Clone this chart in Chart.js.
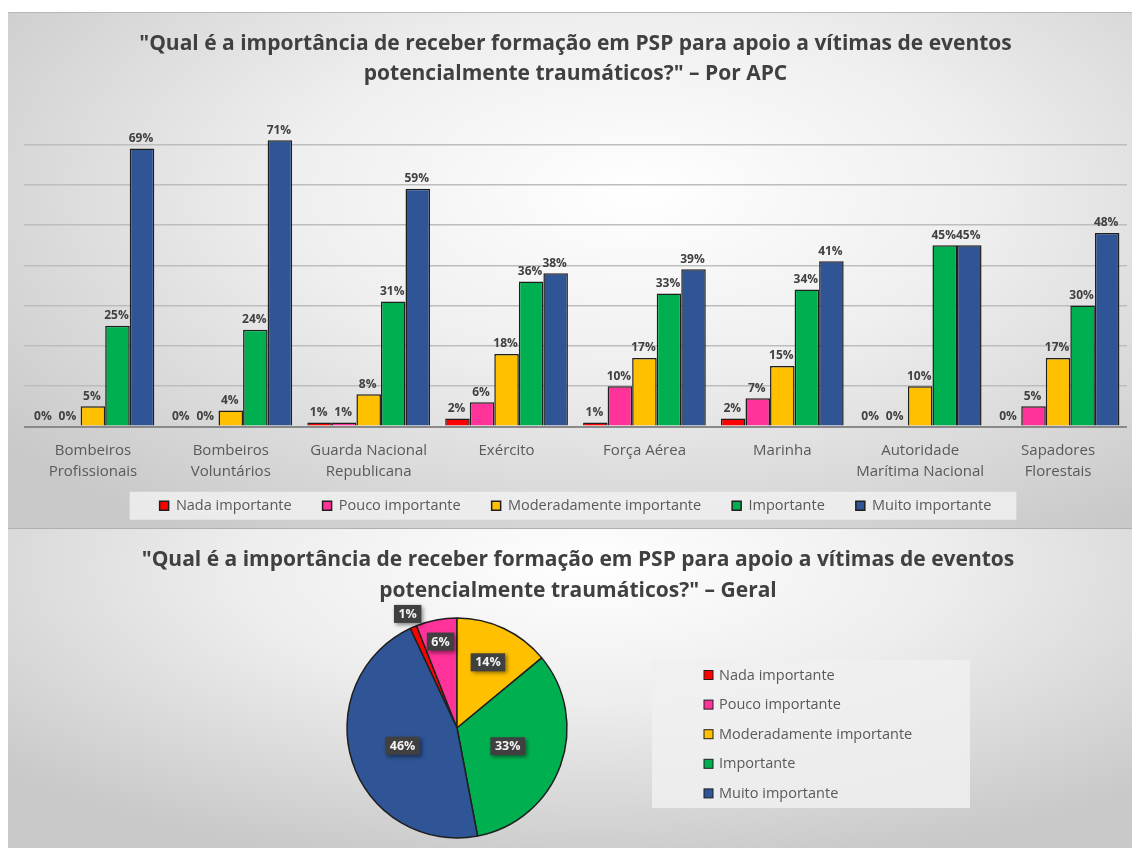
<!DOCTYPE html>
<html>
<head>
<meta charset="utf-8">
<script src="https://cdn.jsdelivr.net/npm/chart.js@4.4.1/dist/chart.umd.min.js"></script>
<style>
html,body{margin:0;padding:0;background:#ffffff;width:1132px;height:848px;overflow:hidden;}
#p1{position:absolute;left:8px;top:12px;width:1124px;height:516px;box-sizing:border-box;border-top:1px solid #b8b8b8;
 background:radial-gradient(ellipse 72% 80% at 56% 35%, #ffffff 0%, #efefef 42%, #c8c8c8 100%);}
#p2{position:absolute;left:8px;top:528px;width:1124px;height:320px;box-sizing:border-box;border-top:1px solid #b0b0b0;
 background:radial-gradient(ellipse 70% 95% at 52% 12%, #ffffff 0%, #ededed 45%, #c9c9c9 100%);}
#c1{position:absolute;left:8px;top:12px;}
#c2{position:absolute;left:8px;top:528px;}
</style>
</head>
<body>
<div id="p1"></div>
<div id="p2"></div>
<canvas id="c1" width="1124" height="511"></canvas>
<canvas id="c2" width="1124" height="320"></canvas>
<script>
// ---------- data ----------
const categories = [
  ['Bombeiros','Profissionais'],
  ['Bombeiros','Voluntários'],
  ['Guarda Nacional','Republicana'],
  'Exército',
  'Força Aérea',
  'Marinha',
  ['Autoridade','Marítima Nacional'],
  ['Sapadores','Florestais']
];
const seriesNames = ['Nada importante','Pouco importante','Moderadamente importante','Importante','Muito importante'];
const nadaImportante          = [0, 0, 1, 2, 1, 2, 0, 0];
const poucoImportante         = [0, 0, 1, 6, 10, 7, 0, 5];
const moderadamenteImportante = [5, 4, 8, 18, 17, 15, 10, 17];
const importante              = [25, 24, 31, 36, 33, 34, 45, 30];
const muitoImportante         = [69, 71, 59, 38, 39, 41, 45, 48];
const geralValues = [1, 6, 14, 33, 46];
const yTicks = [0, 10, 20, 30, 40, 50, 60, 70, 80];
const titleTop = ['"Qual é a importância de receber formação em PSP para apoio a vítimas de eventos', 'potencialmente traumáticos?" – Por APC'];
const titleBottom = ['"Qual é a importância de receber formação em PSP para apoio a vítimas de eventos', 'potencialmente traumáticos?" – Geral'];

// ---------- styles ----------
const colors = ['#FF0000', '#FF3399', '#FFC000', '#00B050', '#2F5597'];
const FONT = '"Open Sans", "Noto Sans", sans-serif';
const series = [nadaImportante, poucoImportante, moderadamenteImportante, importante, muitoImportante];

const barLabels = {
  id: 'barLabels',
  afterDatasetsDraw(chart) {
    const ctx = chart.ctx;
    ctx.save();
    ctx.font = 'bold 12px ' + FONT;
    ctx.fillStyle = '#404040';
    ctx.textAlign = 'center';
    ctx.textBaseline = 'bottom';
    chart.data.datasets.forEach((ds, di) => {
      chart.getDatasetMeta(di).data.forEach((el, i) => {
        ctx.fillText(ds.data[i] + '%', el.x - 1, el.y - 4);
      });
    });
    ctx.restore();
  }
};

const legendBg = {
  id: 'legendBg',
  beforeDraw(chart) {
    const lg = chart.legend;
    if (!lg || !lg.legendHitBoxes || !lg.legendHitBoxes.length) return;
    const hb = lg.legendHitBoxes;
    const l = Math.min(...hb.map(h => h.left)) - 30;
    const r = Math.max(...hb.map(h => h.left + h.width)) + 25;
    const cy = hb[0].top + hb[0].height / 2;
    const ctx = chart.ctx;
    ctx.save();
    ctx.fillStyle = 'rgba(240,240,240,0.85)';
    ctx.fillRect(l, cy - 14, r - l, 28);
    ctx.restore();
  }
};

new Chart(document.getElementById('c1'), {
  type: 'bar',
  data: {
    labels: categories,
    datasets: series.map((d, i) => ({
      label: seriesNames[i],
      data: d,
      backgroundColor: colors[i],
      borderColor: '#1f1f1f',
      borderWidth: 1.5,
      barPercentage: 1.0,
      categoryPercentage: 0.89
    }))
  },
  options: {
    responsive: false,
    animation: false,
    layout: { padding: { left: 16, right: 5, top: 0, bottom: 0 } },
    plugins: {
      title: {
        display: true,
        text: titleTop,
        color: '#404040',
        font: { family: FONT, size: 21, weight: 'bold', lineHeight: 1.43 },
        padding: { top: 17, bottom: 15 }
      },
      legend: {
        position: 'bottom',
        labels: {
          boxWidth: 9, boxHeight: 9, padding: 31,
          color: '#595959',
          font: { family: FONT, size: 14.5 }
        }
      },
      tooltip: { enabled: false }
    },
    scales: {
      x: {
        grid: { display: false },
        border: { display: false },
        ticks: { color: '#595959', font: { family: FONT, size: 15, lineHeight: 1.4 }, padding: 6, maxRotation: 0, autoSkip: false },
        afterFit(s) { s.height = 41; s._computeLabelArea = () => undefined; }
      },
      y: {
        min: yTicks[0], max: yTicks[yTicks.length - 1],
        afterBuildTicks(s) { s.ticks = yTicks.map(v => ({ value: v })); },
        ticks: { display: false },
        border: { display: false },
        grid: {
          drawTicks: false,
          color: c => c.tick.value === 0 ? '#8a8a8a' : (c.tick.value === 80 ? 'rgba(0,0,0,0)' : '#bdbdbd'),
          lineWidth: c => c.tick.value === 0 ? 2 : 1.5
        },
        afterFit(s) { s.width = 0; }
      }
    }
  },
  plugins: [legendBg, barLabels]
});

// ---------- pie ----------
const pieLabelRadius = [1.13, 0.8, 0.66, 0.49, 0.52];
const pieExtras = {
  id: 'pieExtras',
  beforeDraw(chart) {
    const ctx = chart.ctx;
    ctx.save();
    ctx.fillStyle = '#404040';
    ctx.font = 'bold 21px ' + FONT;
    ctx.textAlign = 'center';
    ctx.textBaseline = 'middle';
    ctx.fillText(titleBottom[0], 570, 32);
    ctx.fillText(titleBottom[1], 570, 63);
    // legend box
    ctx.fillStyle = 'rgba(240,240,240,0.85)';
    ctx.fillRect(644, 132, 318, 148);
    ctx.font = '14.5px ' + FONT;
    ctx.textAlign = 'left';
    chart.data.labels.forEach((lab, i) => {
      const y = 147 + i * 29.6;
      ctx.fillStyle = colors[i];
      ctx.fillRect(696, y - 4.5, 9, 9);
      ctx.strokeStyle = '#1f1f1f';
      ctx.lineWidth = 1;
      ctx.strokeRect(696, y - 4.5, 9, 9);
      ctx.fillStyle = '#595959';
      ctx.fillText(lab, 711, y + 0.5);
    });
    ctx.restore();
  },
  afterDatasetsDraw(chart) {
    const ctx = chart.ctx;
    const ds = chart.data.datasets[0];
    ctx.save();
    ctx.font = 'bold 12.5px ' + FONT;
    chart.getDatasetMeta(0).data.forEach((arc, i) => {
      const p = arc.getProps(['x', 'y', 'startAngle', 'endAngle', 'outerRadius'], true);
      const mid = (p.startAngle + p.endAngle) / 2;
      const r = p.outerRadius * pieLabelRadius[i];
      const x = p.x + Math.cos(mid) * r, y = p.y + Math.sin(mid) * r;
      const t = ds.data[i] + '%';
      const w = ctx.measureText(t).width + 9, h = 18;
      ctx.save();
      ctx.shadowColor = 'rgba(0,0,0,0.45)';
      ctx.shadowBlur = 4; ctx.shadowOffsetX = 2; ctx.shadowOffsetY = 2;
      ctx.fillStyle = '#404040';
      ctx.fillRect(x - w / 2, y - h / 2, w, h);
      ctx.restore();
      ctx.fillStyle = '#f4f4f4';
      ctx.textAlign = 'center';
      ctx.textBaseline = 'middle';
      ctx.fillText(t, x, y + 0.5);
    });
    ctx.restore();
  }
};

const total = geralValues.reduce((a, b) => a + b, 0);
new Chart(document.getElementById('c2'), {
  type: 'pie',
  data: {
    labels: seriesNames,
    datasets: [{
      data: geralValues,
      backgroundColor: colors,
      borderColor: '#1f1f1f',
      borderWidth: 1.5,
      radius: 110,
      clip: false
    }]
  },
  options: {
    responsive: false,
    animation: false,
    rotation: -(geralValues[0] + geralValues[1]) / total * 360,
    layout: { padding: { left: 339, right: 565, top: 90, bottom: 10 } },
    plugins: { legend: { display: false }, title: { display: false }, tooltip: { enabled: false } }
  },
  plugins: [pieExtras]
});
</script>
</body>
</html>
